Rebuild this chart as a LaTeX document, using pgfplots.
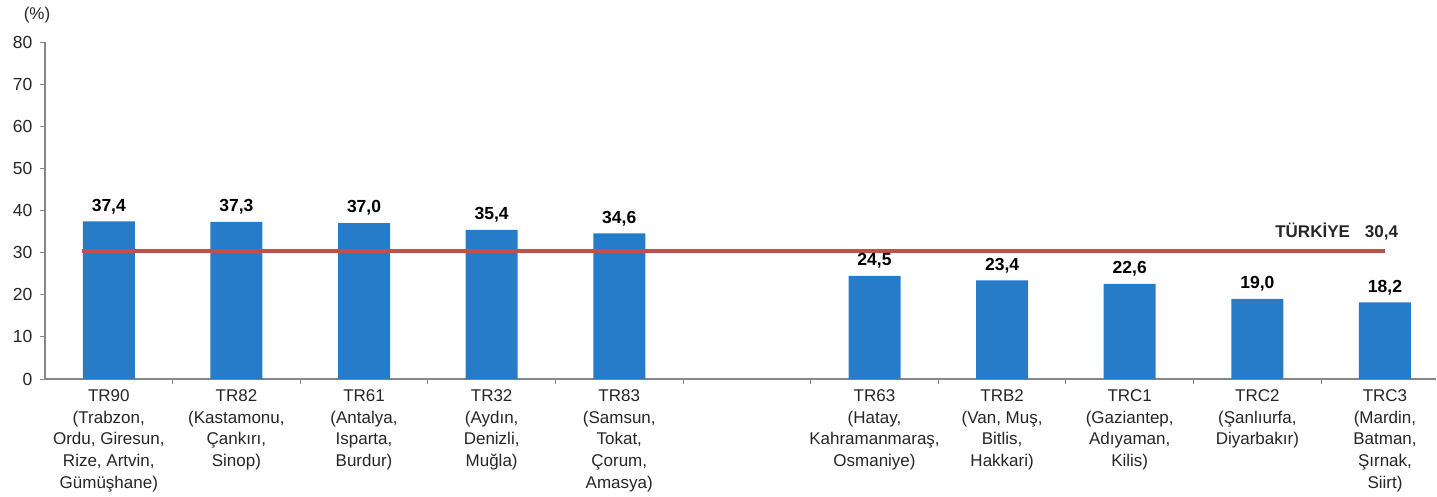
\documentclass[border=0pt]{standalone}
\usepackage{fontspec}
\setmainfont{Liberation Sans}
\usepackage{pgfplots}
\pgfplotsset{compat=1.18}
\definecolor{barblue}{RGB}{38,124,201}
\definecolor{linered}{RGB}{192,80,77}
\definecolor{axgray}{RGB}{134,134,134}
\begin{document}
\begin{tikzpicture}
\path[use as bounding box] (-45pt,-117pt) rectangle (1392pt,379pt);
\begin{axis}[
  at={(0pt,0pt)}, anchor=south west,
  scale only axis, width=1391pt, height=337pt,
  xmin=-0.5, xmax=10.4, ymin=0, ymax=80,
  clip=false,
  axis lines*=left,
  axis line style={axgray, line width=1.3pt},
  tick align=outside,
  major tick length=5pt,
  tick style={axgray, line width=1pt},
  /pgf/number format/assume math mode=true,
  ytick={0,10,...,80},
  yticklabel style={font=\fontsize{17.5}{20}\selectfont, text=black!85, xshift=-4pt},
  xtick={0.5,1.5,...,9.5},
  xticklabels={},
  extra x ticks={0,1,2,3,4,6,7,8,9,10},
  extra x tick style={major tick length=0pt},
  extra x tick labels={
    {TR90\\(Trabzon,\\Ordu, Giresun,\\Rize, Artvin,\\Gümüşhane)},
    {TR82\\(Kastamonu,\\Çankırı,\\Sinop)},
    {TR61\\(Antalya,\\Isparta,\\Burdur)},
    {TR32\\(Aydın,\\Denizli,\\Muğla)},
    {TR83\\(Samsun,\\Tokat,\\Çorum,\\Amasya)},
    {TR63\\(Hatay,\\Kahramanmaraş,\\Osmaniye)},
    {TRB2\\(Van, Muş,\\Bitlis,\\Hakkari)},
    {TRC1\\(Gaziantep,\\Adıyaman,\\Kilis)},
    {TRC2\\(Şanlıurfa,\\Diyarbakır)},
    {TRC3\\(Mardin,\\Batman,\\Şırnak,\\Siirt)}},
  xticklabel style={font=\fontsize{17}{21.7}\selectfont, text=black!85, align=center, anchor=north, yshift=-7pt},
]
\addplot[ybar, bar width=52pt, fill=barblue, draw=none,
  nodes near coords,
  nodes near coords style={font=\bfseries\fontsize{17.5}{20}\selectfont, text=black, yshift=4pt,
    /pgf/number format/use comma, /pgf/number format/fixed,
    /pgf/number format/fixed zerofill, /pgf/number format/precision=1}]
  coordinates {(0,37.4) (1,37.3) (2,37.0) (3,35.4) (4,34.6) (6,24.5) (7,23.4) (8,22.6) (9,19.0) (10,18.2)};
\addplot[linered, line width=4pt, forget plot] coordinates {(-0.21,30.4) (10,30.4)};
\node[anchor=east, font=\bfseries\fontsize{17}{20}\selectfont, text=black!85] at (axis cs:10.13,34.9) {TÜRKİYE\hspace{15pt}30,4};
\end{axis}
\node[font=\fontsize{17}{20}\selectfont, text=black!85] at (-8pt,364pt) {(\%)};
\end{tikzpicture}
\end{document}
